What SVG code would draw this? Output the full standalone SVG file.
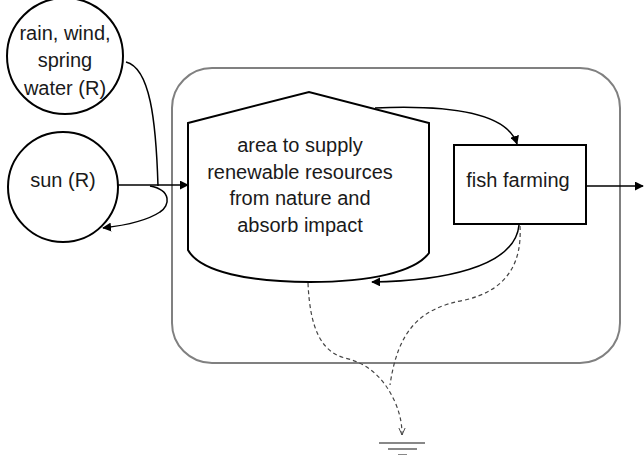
<svg xmlns="http://www.w3.org/2000/svg" width="644" height="455" viewBox="0 0 644 455">
<style>
.shape{fill:#fff;stroke:#000;stroke-width:2}
.lbl{font-family:"Liberation Sans",Arial,sans-serif;font-size:20px;fill:#1a1a1a;text-anchor:middle}
.conn{fill:none;stroke:#000;stroke-width:1.5}
.dash{fill:none;stroke:#444;stroke-width:1.2;stroke-dasharray:4 3}
.gnd{stroke:#888;stroke-width:2}
</style>
<defs>
<marker id="ah" viewBox="0 0 10 10" refX="9" refY="5" markerWidth="9" markerHeight="9" markerUnits="userSpaceOnUse" orient="auto">
<path d="M0,0 L10,5 L0,10 z" fill="#000"/>
</marker>
<marker id="oh" viewBox="0 0 10 10" refX="9" refY="5" markerWidth="8" markerHeight="8" markerUnits="userSpaceOnUse" orient="auto">
<path d="M0,1 L9,5 L0,9" fill="none" stroke="#444" stroke-width="1.2"/>
</marker>
</defs>
<rect id="system" x="172" y="68" width="448" height="295" rx="40" ry="40" fill="none" stroke="#808080" stroke-width="2"/>
<g id="rain">
<circle class="shape" cx="65" cy="56" r="58"/>
<text class="lbl" x="65" y="40">rain, wind,</text>
<text class="lbl" x="65" y="67">spring</text>
<text class="lbl" x="65" y="95">water (R)</text>
</g>
<g id="sun">
<circle class="shape" cx="63" cy="187" r="55"/>
<text class="lbl" x="63" y="187">sun (R)</text>
</g>
<g id="storage">
<path class="shape" d="M188,123 L309,92 L429,123 L429,253 C415,272 370,282 310,282 C250,282 200,272 188,250 Z"/>
<text class="lbl" x="300" y="152">area to supply</text>
<text class="lbl" x="300" y="179">renewable resources</text>
<text class="lbl" x="300" y="205">from nature and</text>
<text class="lbl" x="300" y="232">absorb impact</text>
</g>
<g id="fish">
<rect class="shape" x="454" y="145" width="132" height="79"/>
<text class="lbl" x="518" y="187">fish farming</text>
</g>
<g id="ground">
<line class="gnd" x1="379" y1="443" x2="425" y2="443"/>
<line class="gnd" x1="388" y1="449" x2="417" y2="449"/>
<line class="gnd" x1="398" y1="455" x2="407" y2="455"/>
</g>
<g id="connectors">
<path class="conn" d="M118,185 L188,185" marker-end="url(#ah)"/>
<path class="conn" d="M126,62 C150,68 156,120 158,186"/>
<path class="conn" d="M150,186 C172,190 170,206 160,212 C145,222 120,226 103,228" marker-end="url(#ah)"/>
<path class="conn" d="M375,108 C445,105 507,112 517,144" marker-end="url(#ah)"/>
<path class="conn" d="M519,225 C515,268 440,281 372,282" marker-end="url(#ah)"/>
<path class="conn" d="M587,186 L643,186" marker-end="url(#ah)"/>
<path class="dash" d="M308,283 C310,330 322,352 345,358 C370,364 385,380 395,402 C401,416 402,426 402,435" marker-end="url(#oh)"/>
<path class="dash" d="M520,226 C522,262 508,290 465,300 C420,308 398,330 390,385"/>
</g>
</svg>
